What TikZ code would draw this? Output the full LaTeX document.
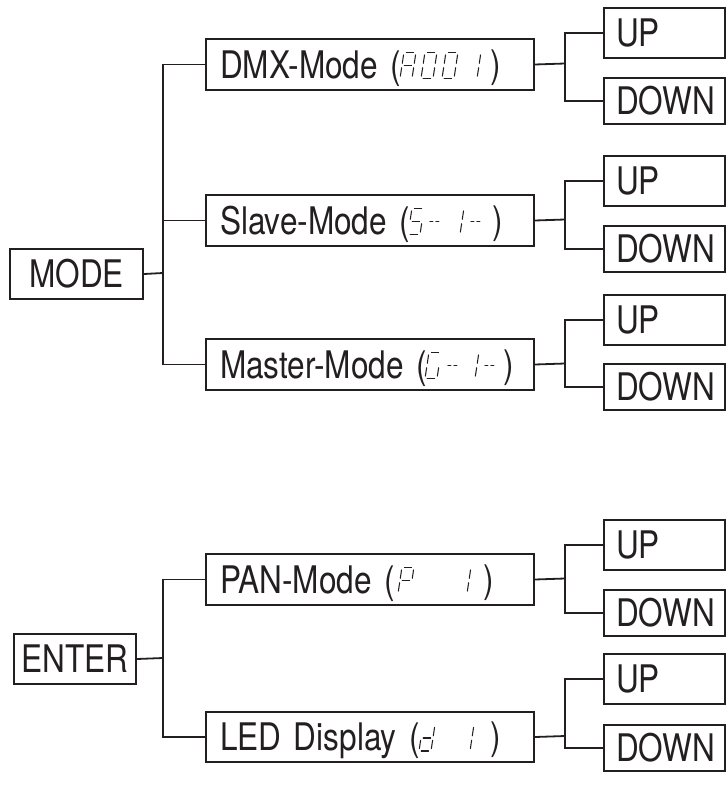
\documentclass[tikz,border=0pt]{standalone}
\usepackage{fontspec}
\setmainfont{TeX Gyre Heros}[FakeStretch=0.83]
\usetikzlibrary{calc}
\definecolor{ink}{HTML}{231F20}
\newcommand\segA{\draw (2.4,-26) -- (9.8,-26);}
\newcommand\segB{\draw (12,-23.6) -- (12,-15.2);}
\newcommand\segC{\draw (12,-10.8) -- (12,-2.4);}
\newcommand\segD{\draw (2.2,0) -- (9.6,0);}
\newcommand\segE{\draw (0,-10.8) -- (0,-2.4);}
\newcommand\segF{\draw (0,-23.6) -- (0,-15.2);}
\newcommand\segG{\draw (2.3,-13) -- (9.7,-13);}
\newcommand\segH{\draw (1,-13) -- (4,-13) (7,-13) -- (10,-13);}
\newcommand\segat[3]{\begin{scope}[shift={(#1,#2)},xslant=0.15,segline]#3\end{scope}}
\begin{document}
\begin{tikzpicture}[x=1pt,y=-1pt,
  every node/.style={font=\fontsize{38pt}{40pt}\selectfont, text=ink},
  box/.style={draw=ink, line width=2pt, inner xsep=14pt, inner ysep=0pt,
    text height=27.5pt, text depth=0pt, anchor=north west},
  wide/.style={box, text width=300pt, align=left, minimum height=51pt},
  keybox/.style={box, inner xsep=12pt, text width=97pt, align=left, minimum width=121pt},
  headbox/.style={box, inner xsep=4pt, minimum height=50pt},
  paren/.style={inner sep=0pt, text height=27.5pt, text depth=0pt, anchor=west},
  link/.style={draw=ink, line width=1.8pt},
  segline/.style={draw=ink, line width=1.05pt, double=white, double distance=0.8pt, line cap=round}]
\useasboundingbox (0,0) rectangle (726,794);

% ---------- MODE group ----------
\node[headbox, minimum width=133pt] (mode) at (9,248) {MODE};
\node[wide] (dmx) at (205,38) {DMX-Mode (};
\node[wide] (slave) at (205,194) {Slave-Mode (};
\node[wide] (master) at (205,338) {Master-Mode (};
\node[paren] (dmxr) at (490,63.5) {)};
\node[paren] (slaver) at (492,219.5) {)};
\node[paren] (masterr) at (503,363.5) {)};

\segat{400}{78.5}{\segA\segB\segC\segE\segF\segG}
\segat{421}{78.5}{\segA\segB\segC\segD\segE\segF}
\segat{442}{78.5}{\segA\segB\segC\segD\segE\segF}
\segat{465}{78.5}{\segB\segC}

\segat{408}{234.5}{\segA\segF\segG\segC\segD}
\segat{427}{234.5}{\segH}
\segat{448}{234.5}{\segB\segC}
\segat{468}{234.5}{\segH}

\segat{425}{378.5}{\segA\segF\segE\segD\segC}
\segat{445}{378.5}{\segH}
\segat{463}{378.5}{\segB\segC}
\segat{482}{378.5}{\segH}

\node[keybox, minimum height=50pt] (up1) at (603,7) {UP};
\node[keybox, minimum height=46pt] (down1) at (603,77) {DOWN};
\node[keybox, minimum height=50pt] (up2) at (603,155) {UP};
\node[keybox, minimum height=46pt] (down2) at (603,225) {DOWN};
\node[keybox, minimum height=50pt] (up3) at (603,294) {UP};
\node[keybox, minimum height=46pt] (down3) at (603,363) {DOWN};

\coordinate (bm) at (163,273);
\coordinate (j1) at (565,63.5);
\coordinate (j2) at (565,219.5);
\coordinate (j3) at (565,363.5);

\draw[link] (mode.east) -- (bm);
\draw[link] (dmx.west) -| (bm) |- (master.west);
\draw[link] (slave.west) -- (bm |- slave.west);
\draw[link] (dmx.east) -- (j1);
\draw[link] (slave.east) -- (j2);
\draw[link] (master.east) -- (j3);
\draw[link] (up1.west) -| (j1) |- (down1.west);
\draw[link] (up2.west) -| (j2) |- (down2.west);
\draw[link] (up3.west) -| (j3) |- (down3.west);

% ---------- ENTER group ----------
\node[headbox, minimum width=122pt] (enter) at (13,633) {ENTER};
\node[wide] (pan) at (205,553) {PAN-Mode (};
\node[wide, minimum height=50pt] (led) at (205,711) {LED Display (};
\node[paren] (panr) at (483,578.5) {)};
\node[paren] (ledr) at (490,736) {)};

\segat{398}{593.5}{\segA\segB\segF\segG\segE}
\segat{455}{593.5}{\segB\segC}

\segat{419}{751}{\segB\segC\segD\segE\segG}
\segat{458}{751}{\segB\segC}

\node[keybox, minimum height=50pt] (up4) at (603,519) {UP};
\node[keybox, minimum height=46pt] (down4) at (603,589) {DOWN};
\node[keybox, minimum height=50pt] (up5) at (603,653) {UP};
\node[keybox, minimum height=46pt] (down5) at (603,724) {DOWN};

\coordinate (be) at (163,658);
\coordinate (j4) at (565,578.5);
\coordinate (j5) at (565,736);

\draw[link] (enter.east) -- (be);
\draw[link] (pan.west) -| (be) |- (led.west);
\draw[link] (pan.east) -- (j4);
\draw[link] (led.east) -- (j5);
\draw[link] (up4.west) -| (j4) |- (down4.west);
\draw[link] (up5.west) -| (j5) |- (down5.west);
\end{tikzpicture}
\end{document}
